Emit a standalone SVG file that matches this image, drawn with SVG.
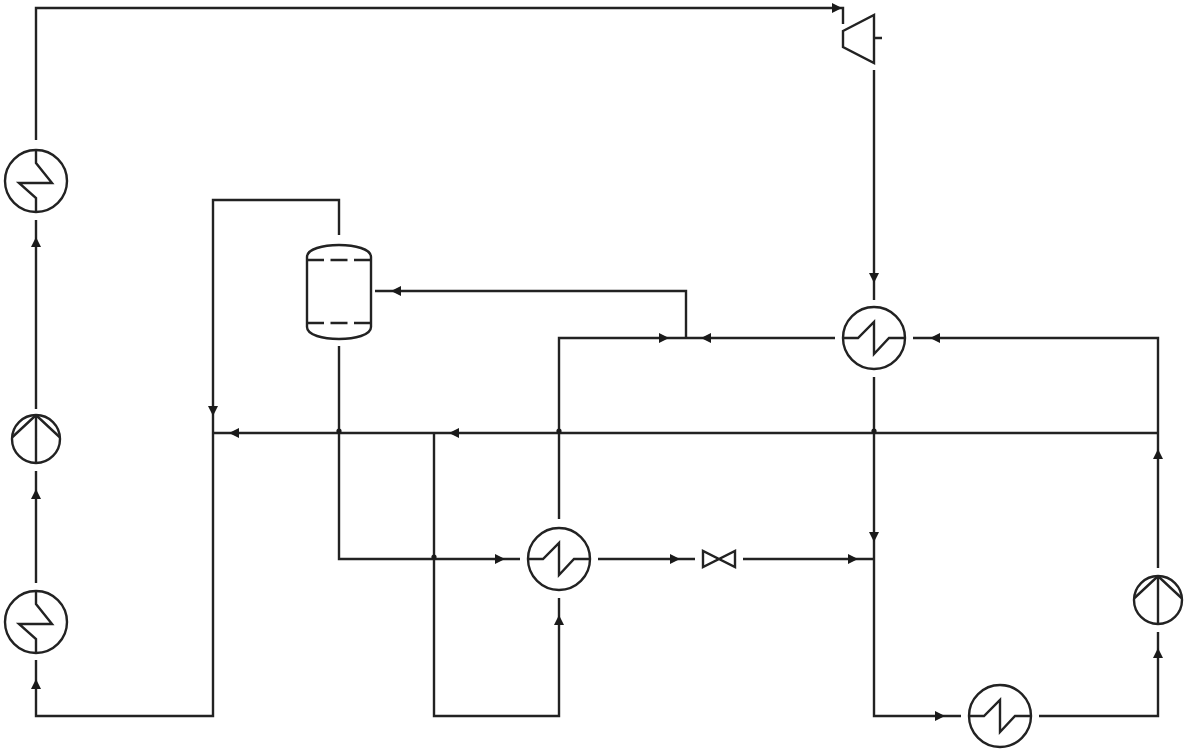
<svg xmlns="http://www.w3.org/2000/svg" width="1186" height="752" viewBox="0 0 1186 752">
<style>
.l{fill:none;stroke:#222;stroke-width:2.4;stroke-linejoin:miter}
.d{stroke-dasharray:17 6.5}
</style>
<defs>
<polygon id="a" points="5,0 -5,-5 -5,5" fill="#1a1a1a"/>
<circle id="dot" r="2.6" fill="#1a1a1a"/>
<path id="hxa" class="l" d="M0,-31V-18L16,2H-17L0,17V31"/>
<path id="hxb" class="l" d="M-31,0H-16L0,-16V16L15,0H31"/>
<g id="pump"><circle class="l" r="24"/><path class="l" d="M0,-24V24M-23.500,-2L-1,-23H1L23.500,-2"/></g>
</defs>
<rect width="1186" height="752" fill="#fff"/>
<g id="connectors">
<path class="l" d="M36,140V8H843V24"/>
<path class="l" d="M874,70V300"/>
<path class="l" d="M36,220V409"/>
<path class="l" d="M36,471V583"/>
<path class="l" d="M36,660V716H213V200H339V235"/>
<path class="l" d="M1158,433H213"/>
<path class="l" d="M339,346V559H520"/>
<path class="l" d="M434,433V716H559V598"/>
<path class="l" d="M559,519V338H835"/>
<path class="l" d="M686,338V291H375"/>
<path class="l" d="M1158,568V338H913"/>
<path class="l" d="M1158,632V716H1039"/>
<path class="l" d="M961,716H874V377"/>
<path class="l" d="M598,559H695"/>
<path class="l" d="M743,559H874"/>
<use href="#a" transform="translate(837,8)"/>
<use href="#a" transform="translate(874,278) rotate(90)"/>
<use href="#a" transform="translate(36,242) rotate(-90)"/>
<use href="#a" transform="translate(36,494) rotate(-90)"/>
<use href="#a" transform="translate(36,684) rotate(-90)"/>
<use href="#a" transform="translate(213,411) rotate(90)"/>
<use href="#a" transform="translate(234,433) rotate(180)"/>
<use href="#a" transform="translate(454,433) rotate(180)"/>
<use href="#a" transform="translate(500,559)"/>
<use href="#a" transform="translate(559,620) rotate(-90)"/>
<use href="#a" transform="translate(664,338)"/>
<use href="#a" transform="translate(706,338) rotate(180)"/>
<use href="#a" transform="translate(396,291) rotate(180)"/>
<use href="#a" transform="translate(935,338) rotate(180)"/>
<use href="#a" transform="translate(1158,454) rotate(-90)"/>
<use href="#a" transform="translate(1158,653) rotate(-90)"/>
<use href="#a" transform="translate(940,716)"/>
<use href="#a" transform="translate(874,537) rotate(90)"/>
<use href="#a" transform="translate(675,559)"/>
<use href="#a" transform="translate(853,559)"/>
<use href="#dot" x="339" y="431"/>
<use href="#dot" x="559" y="431"/>
<use href="#dot" x="874" y="431"/>
<use href="#dot" x="434" y="557"/>
</g>
<g id="turbine"><path class="l" d="M843,31L874,15V63L843,47ZM874,38H882"/></g>
<g id="hx-top-left" transform="translate(36,181)"><circle class="l" r="31"/><use href="#hxa"/></g>
<g id="pump-left" transform="translate(36,439)"><use href="#pump"/></g>
<g id="hx-bottom-left" transform="translate(36,622)"><circle class="l" r="31"/><use href="#hxa"/></g>
<g id="vessel"><path class="l" d="M307,257C307,241 371,241 371,257V327C371,343 307,343 307,327Z"/><path class="l d" d="M307,260H371M307,323H371"/></g>
<g id="hx-upper" transform="translate(874,338)"><circle class="l" r="31"/><use href="#hxb"/></g>
<g id="hx-middle" transform="translate(559,559)"><circle class="l" r="31"/><use href="#hxb"/></g>
<g id="hx-bottom" transform="translate(1000,716)"><circle class="l" r="31"/><use href="#hxb"/></g>
<g id="valve"><path class="l" d="M703,551V567L735,551V567Z"/></g>
<g id="pump-right" transform="translate(1158,600)"><use href="#pump"/></g>
</svg>
